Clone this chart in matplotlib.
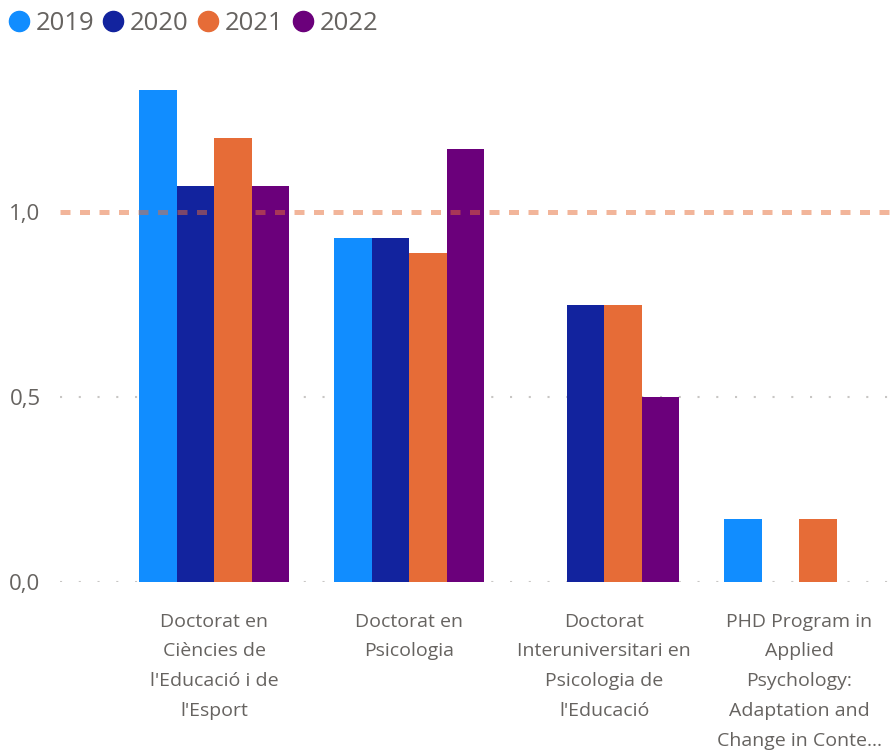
import numpy as np
import matplotlib.pyplot as plt
from matplotlib.lines import Line2D

plt.rcParams['font.family'] = ['Open Sans', 'DejaVu Sans']

programs = [
    "Doctorat en\nCiències de\nl'Educació i de\nl'Esport",
    "Doctorat en\nPsicologia",
    "Doctorat\nInteruniversitari en\nPsicologia de\nl'Educació",
    "PHD Program in\nApplied\nPsychology:\nAdaptation and\nChange in Conte…",
]
years = ["2019", "2020", "2021", "2022"]
values = {
    "2019": [1.33, 0.93, np.nan, 0.17],
    "2020": [1.07, 0.93, 0.75, np.nan],
    "2021": [1.20, 0.89, 0.75, 0.17],
    "2022": [1.07, 1.17, 0.50, np.nan],
}
target = 1.0
yticks = [0.0, 0.5, 1.0]
ytick_labels = ["0,0", "0,5", "1,0"]

colors = ["#118DFF", "#12239E", "#E66C37", "#6B007B"]
text_col = "#666360"

fig = plt.figure(figsize=(8.91, 7.52), dpi=100)
ax = fig.add_axes([60/891, 170/752, 831/891, 518/752])

x = np.arange(len(programs))
w = 0.192
for i, yr in enumerate(years):
    ax.bar(x + (i - 1.5) * w, values[yr], width=w, color=colors[i], zorder=2)

# dotted gridlines (the 1,0 line is covered by the target line)
ax.hlines(yticks[:2], -0.79, 3.47, color="#C8C6C4", linestyle=(0, (1, 8)),
          lw=1.5, zorder=1)
ax.axhline(target, color="#E66C37", alpha=0.5, lw=3.6, dashes=(2.0, 1.9),
           dash_capstyle="butt", zorder=3)

ax.set_xlim(-0.79, 3.47)
ax.set_ylim(0, 1.4)
ax.set_yticks(yticks)
ax.set_yticklabels(ytick_labels)
ax.set_xticks(x)
ax.set_xticklabels(programs, va="top", fontsize=14)
for t in ax.get_xticklabels():
    t.set_linespacing(1.85)
ax.tick_params(axis="both", length=0, colors=text_col)
ax.tick_params(axis="y", pad=14, labelsize=16)
ax.tick_params(axis="x", pad=22)
for s in ax.spines.values():
    s.set_visible(False)

handles = [Line2D([], [], marker="o", ls="", color=c, markersize=14.5) for c in colors]
fig.legend(handles, years, loc="upper left", bbox_to_anchor=(-0.012, 1.004),
           ncol=4, frameon=False, fontsize=18.5, handletextpad=0.05,
           columnspacing=0.15, borderaxespad=0.15, labelcolor=text_col,
           handlelength=1.2)

fig.savefig("out.png", dpi=100)
